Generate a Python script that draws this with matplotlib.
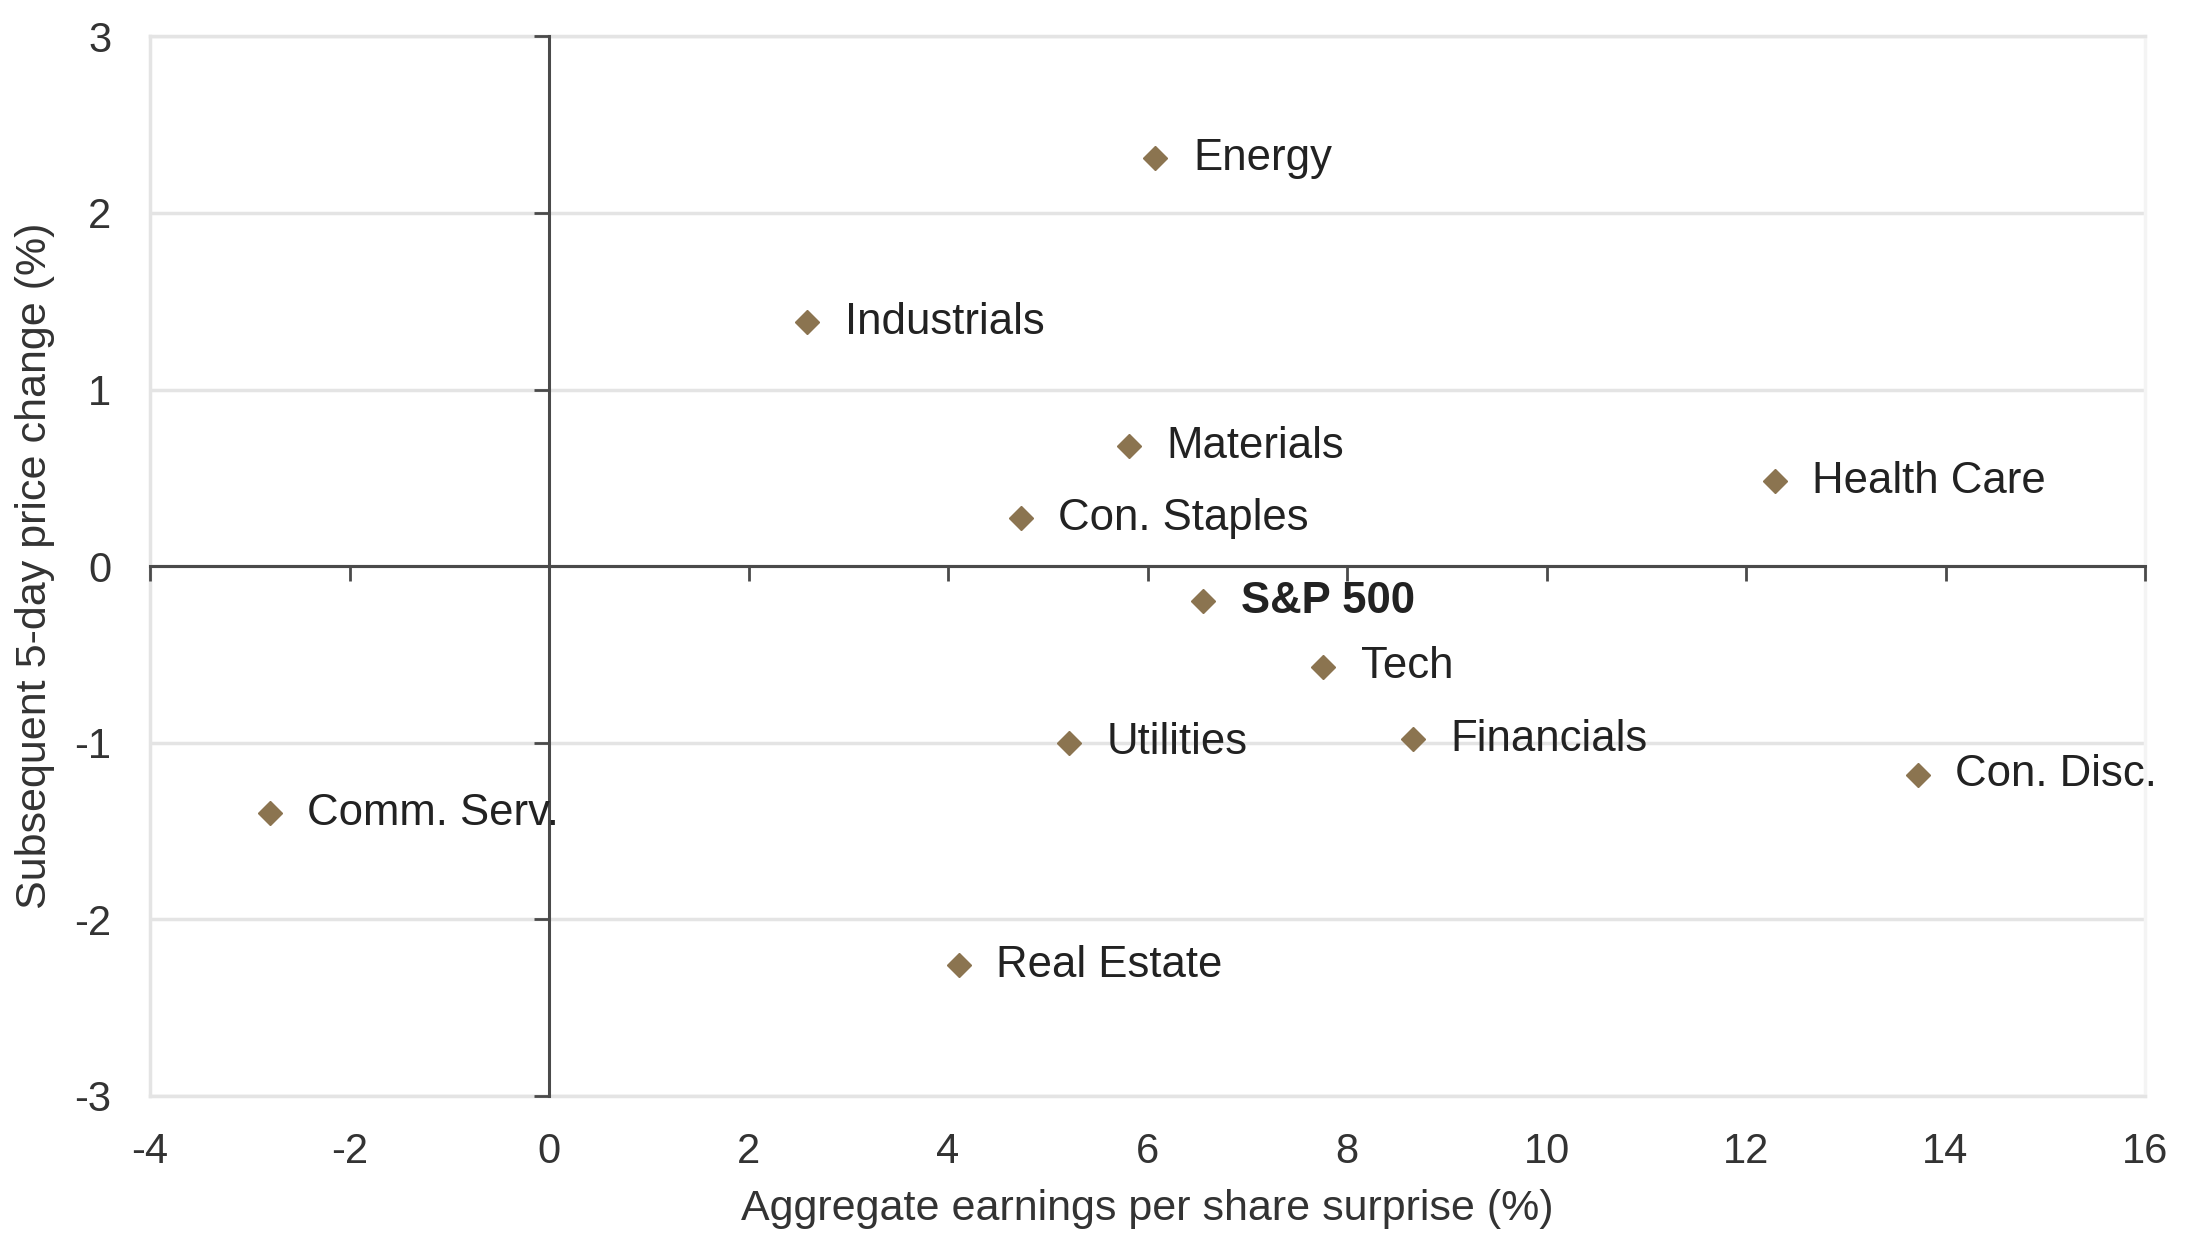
import matplotlib
matplotlib.use("Agg")
import matplotlib.pyplot as plt

plt.rcParams['font.family'] = ['Liberation Sans', 'DejaVu Sans']
plt.rcParams['axes.unicode_minus'] = False

# sector data: EPS surprise (%) vs subsequent 5-day price change (%)
sectors = ['Energy', 'Industrials', 'Materials', 'Con. Staples', 'Health Care',
           'S&P 500', 'Tech', 'Utilities', 'Financials', 'Con. Disc.',
           'Comm. Serv.', 'Real Estate']
eps_surprise = [6.08, 2.59, 5.81, 4.73, 12.29, 6.56, 7.76, 5.21, 8.66, 13.72, -2.80, 4.11]
price_change = [2.31, 1.38, 0.68, 0.27, 0.48, -0.20, -0.57, -1.00, -0.98, -1.18, -1.40, -2.26]

x_ticks = [-4, -2, 0, 2, 4, 6, 8, 10, 12, 14, 16]
y_ticks = [-3, -2, -1, 0, 1, 2, 3]

marker_col = '#8B7450'
text_col = '#222222'
tick_col = '#333333'
grid_col = '#E4E4E4'

fig = plt.figure(figsize=(22, 12.59), dpi=100)
rect = [0.0682, 0.1295, 0.9068, 0.8416]
ax = fig.add_axes(rect)

ax.set_xlim(-4, 16)
ax.set_ylim(-3, 3)
ax.set_xticks(x_ticks)
ax.set_yticks(y_ticks)
ax.grid(axis='y', color=grid_col, linewidth=2.5)
ax.set_axisbelow(True)
for s in ['left', 'top', 'bottom']:
    ax.spines[s].set_color(grid_col)
    ax.spines[s].set_linewidth(2.5)
ax.spines['right'].set_color('#F4F4F4')
ax.spines['right'].set_linewidth(2.5)
ax.tick_params(length=0, labelsize=30, labelcolor=tick_col)
ax.tick_params(axis='x', pad=26)
ax.tick_params(axis='y', pad=28)
ax.set_xlabel('Aggregate earnings per share surprise (%)', fontsize=31, color=tick_col, labelpad=12)
ax.set_ylabel('Subsequent 5-day price change (%)', fontsize=31, color=tick_col, labelpad=14)

# overlay axes: dark zero lines with tick marks
ax0 = fig.add_axes(rect, sharex=ax, sharey=ax)
ax0.patch.set_visible(False)
ax0.spines['top'].set_visible(False)
ax0.spines['right'].set_visible(False)
ax0.spines['left'].set_position(('data', 0))
ax0.spines['bottom'].set_position(('data', 0))
for s in ['left', 'bottom']:
    ax0.spines[s].set_color('#4A4A4A')
    ax0.spines[s].set_linewidth(2.2)
ax0.tick_params(direction='out', length=11, width=2, color='#4A4A4A',
                labelleft=False, labelbottom=False)

ax0.plot(eps_surprise, price_change, linestyle='none', marker='D',
         markersize=12.5, color=marker_col, zorder=5)

for name, x, y in zip(sectors, eps_surprise, price_change):
    ax0.annotate(name, (x, y), xytext=(27, 0), textcoords='offset points',
                 va='center', ha='left', fontsize=31.5, color=text_col,
                 fontweight='bold' if name == 'S&P 500' else 'normal',
                 annotation_clip=False)

fig.savefig('out.png', dpi=100)
